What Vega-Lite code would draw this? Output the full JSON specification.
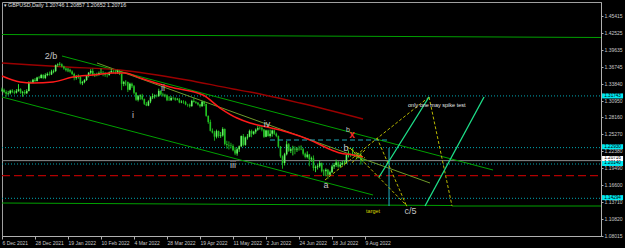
{
"$schema":"https://vega.github.io/schema/vega-lite/v6.json",
"autosize":{"type":"none"},
"padding":{"left":2,"top":2,"right":24,"bottom":12},
"width":599,"height":234,
"background":"#000000",
"config":{"view":{"stroke":"#a0a0a0","strokeWidth":1},"text":{"font":"Liberation Sans"},
"axisX":{"labelFontSize":5,"labelFont":"Liberation Sans","labelColor":"#c8c8c8","labelPadding":1,"tickColor":"#b0b0b0","tickSize":3,"domainColor":"#b0b0b0","grid":false,"labelOverlap":false,"labelFlush":false},
"axisY":{"labelFontSize":5,"labelFont":"Liberation Sans","labelColor":"#c8c8c8","labelPadding":1,"tickColor":"#b0b0b0","tickSize":2,"domainColor":"#b0b0b0","grid":false,"labelOverlap":false,"labelFlush":false}},
"datasets":{
"candles":[
{"i":0,"o":1.3265,"h":1.3315,"l":1.3245,"c":1.328},
{"i":1,"o":1.328,"h":1.33,"l":1.322,"c":1.324},
{"i":2,"o":1.324,"h":1.327,"l":1.316,"c":1.321},
{"i":3,"o":1.321,"h":1.326,"l":1.3185,"c":1.322},
{"i":4,"o":1.322,"h":1.328,"l":1.32,"c":1.3265},
{"i":5,"o":1.3265,"h":1.329,"l":1.322,"c":1.324},
{"i":6,"o":1.324,"h":1.327,"l":1.32,"c":1.323},
{"i":7,"o":1.323,"h":1.329,"l":1.3215,"c":1.326},
{"i":8,"o":1.326,"h":1.3375,"l":1.3245,"c":1.329},
{"i":9,"o":1.329,"h":1.3305,"l":1.321,"c":1.323},
{"i":10,"o":1.323,"h":1.326,"l":1.316,"c":1.324},
{"i":11,"o":1.324,"h":1.3275,"l":1.3195,"c":1.322},
{"i":12,"o":1.322,"h":1.329,"l":1.3205,"c":1.326},
{"i":13,"o":1.326,"h":1.3425,"l":1.325,"c":1.341},
{"i":14,"o":1.341,"h":1.3435,"l":1.338,"c":1.34},
{"i":15,"o":1.34,"h":1.3465,"l":1.339,"c":1.345},
{"i":16,"o":1.345,"h":1.348,"l":1.341,"c":1.343},
{"i":17,"o":1.343,"h":1.35,"l":1.342,"c":1.349},
{"i":18,"o":1.349,"h":1.3515,"l":1.346,"c":1.348},
{"i":19,"o":1.348,"h":1.355,"l":1.347,"c":1.353},
{"i":20,"o":1.353,"h":1.3545,"l":1.346,"c":1.348},
{"i":21,"o":1.348,"h":1.356,"l":1.346,"c":1.353},
{"i":22,"o":1.353,"h":1.3575,"l":1.351,"c":1.355},
{"i":23,"o":1.355,"h":1.359,"l":1.352,"c":1.354},
{"i":24,"o":1.354,"h":1.362,"l":1.353,"c":1.359},
{"i":25,"o":1.359,"h":1.3625,"l":1.356,"c":1.36},
{"i":26,"o":1.36,"h":1.371,"l":1.358,"c":1.37},
{"i":27,"o":1.37,"h":1.373,"l":1.367,"c":1.371},
{"i":28,"o":1.371,"h":1.3748,"l":1.369,"c":1.3715},
{"i":29,"o":1.3715,"h":1.373,"l":1.366,"c":1.3675},
{"i":30,"o":1.3675,"h":1.369,"l":1.362,"c":1.364},
{"i":31,"o":1.364,"h":1.366,"l":1.359,"c":1.361},
{"i":32,"o":1.361,"h":1.365,"l":1.358,"c":1.362},
{"i":33,"o":1.362,"h":1.364,"l":1.357,"c":1.359},
{"i":34,"o":1.359,"h":1.361,"l":1.353,"c":1.355},
{"i":35,"o":1.355,"h":1.357,"l":1.344,"c":1.348},
{"i":36,"o":1.348,"h":1.353,"l":1.345,"c":1.35},
{"i":37,"o":1.35,"h":1.354,"l":1.347,"c":1.35},
{"i":38,"o":1.35,"h":1.351,"l":1.337,"c":1.339},
{"i":39,"o":1.339,"h":1.343,"l":1.3358,"c":1.341},
{"i":40,"o":1.341,"h":1.346,"l":1.339,"c":1.3445},
{"i":41,"o":1.3445,"h":1.353,"l":1.343,"c":1.352},
{"i":42,"o":1.352,"h":1.358,"l":1.349,"c":1.357},
{"i":43,"o":1.357,"h":1.363,"l":1.354,"c":1.36},
{"i":44,"o":1.36,"h":1.364,"l":1.351,"c":1.353},
{"i":45,"o":1.353,"h":1.356,"l":1.35,"c":1.353},
{"i":46,"o":1.353,"h":1.357,"l":1.351,"c":1.3535},
{"i":47,"o":1.3535,"h":1.359,"l":1.352,"c":1.3565},
{"i":48,"o":1.3565,"h":1.364,"l":1.354,"c":1.357},
{"i":49,"o":1.357,"h":1.36,"l":1.351,"c":1.356},
{"i":50,"o":1.356,"h":1.358,"l":1.35,"c":1.3535},
{"i":51,"o":1.3535,"h":1.356,"l":1.349,"c":1.353},
{"i":52,"o":1.353,"h":1.359,"l":1.352,"c":1.3575},
{"i":53,"o":1.3575,"h":1.364,"l":1.356,"c":1.36},
{"i":54,"o":1.36,"h":1.362,"l":1.356,"c":1.359},
{"i":55,"o":1.359,"h":1.362,"l":1.3545,"c":1.358},
{"i":56,"o":1.358,"h":1.362,"l":1.355,"c":1.36},
{"i":57,"o":1.36,"h":1.3615,"l":1.353,"c":1.355},
{"i":58,"o":1.355,"h":1.356,"l":1.3272,"c":1.338},
{"i":59,"o":1.338,"h":1.343,"l":1.334,"c":1.341},
{"i":60,"o":1.341,"h":1.344,"l":1.335,"c":1.341},
{"i":61,"o":1.341,"h":1.342,"l":1.324,"c":1.328},
{"i":62,"o":1.328,"h":1.34,"l":1.327,"c":1.338},
{"i":63,"o":1.338,"h":1.34,"l":1.331,"c":1.334},
{"i":64,"o":1.334,"h":1.336,"l":1.32,"c":1.323},
{"i":65,"o":1.323,"h":1.324,"l":1.309,"c":1.311},
{"i":66,"o":1.311,"h":1.319,"l":1.308,"c":1.317},
{"i":67,"o":1.317,"h":1.32,"l":1.311,"c":1.318},
{"i":68,"o":1.318,"h":1.321,"l":1.31,"c":1.312},
{"i":69,"o":1.312,"h":1.313,"l":1.302,"c":1.304},
{"i":70,"o":1.304,"h":1.307,"l":1.3,"c":1.301},
{"i":71,"o":1.301,"h":1.31,"l":1.3,"c":1.308},
{"i":72,"o":1.308,"h":1.317,"l":1.305,"c":1.315},
{"i":73,"o":1.315,"h":1.3215,"l":1.312,"c":1.317},
{"i":74,"o":1.317,"h":1.32,"l":1.313,"c":1.318},
{"i":75,"o":1.318,"h":1.32,"l":1.315,"c":1.317},
{"i":76,"o":1.317,"h":1.3298,"l":1.316,"c":1.326},
{"i":77,"o":1.326,"h":1.3275,"l":1.318,"c":1.32},
{"i":78,"o":1.32,"h":1.323,"l":1.316,"c":1.318},
{"i":79,"o":1.318,"h":1.321,"l":1.315,"c":1.3185},
{"i":80,"o":1.3185,"h":1.32,"l":1.3085,"c":1.31},
{"i":81,"o":1.31,"h":1.317,"l":1.309,"c":1.31},
{"i":82,"o":1.31,"h":1.317,"l":1.309,"c":1.314},
{"i":83,"o":1.314,"h":1.316,"l":1.311,"c":1.3135},
{"i":84,"o":1.3135,"h":1.315,"l":1.309,"c":1.311},
{"i":85,"o":1.311,"h":1.314,"l":1.31,"c":1.3115},
{"i":86,"o":1.3115,"h":1.314,"l":1.305,"c":1.3065},
{"i":87,"o":1.3065,"h":1.31,"l":1.305,"c":1.3075},
{"i":88,"o":1.3075,"h":1.31,"l":1.304,"c":1.307},
{"i":89,"o":1.307,"h":1.309,"l":1.3015,"c":1.303},
{"i":90,"o":1.303,"h":1.304,"l":1.299,"c":1.3025},
{"i":91,"o":1.3025,"h":1.3045,"l":1.2975,"c":1.3},
{"i":92,"o":1.3,"h":1.311,"l":1.299,"c":1.309},
{"i":93,"o":1.309,"h":1.315,"l":1.306,"c":1.307},
{"i":94,"o":1.307,"h":1.309,"l":1.304,"c":1.306},
{"i":95,"o":1.306,"h":1.307,"l":1.301,"c":1.303},
{"i":96,"o":1.303,"h":1.304,"l":1.2975,"c":1.3},
{"i":97,"o":1.3,"h":1.309,"l":1.299,"c":1.3075},
{"i":98,"o":1.3075,"h":1.309,"l":1.3,"c":1.304},
{"i":99,"o":1.304,"h":1.304,"l":1.282,"c":1.2835},
{"i":100,"o":1.2835,"h":1.284,"l":1.27,"c":1.273},
{"i":101,"o":1.273,"h":1.277,"l":1.257,"c":1.258},
{"i":102,"o":1.258,"h":1.262,"l":1.2535,"c":1.255},
{"i":103,"o":1.255,"h":1.258,"l":1.2411,"c":1.248},
{"i":104,"o":1.248,"h":1.26,"l":1.245,"c":1.2575},
{"i":105,"o":1.2575,"h":1.2585,"l":1.246,"c":1.249},
{"i":106,"o":1.249,"h":1.256,"l":1.246,"c":1.25},
{"i":107,"o":1.25,"h":1.264,"l":1.248,"c":1.261},
{"i":108,"o":1.261,"h":1.262,"l":1.233,"c":1.2355},
{"i":109,"o":1.2355,"h":1.241,"l":1.2275,"c":1.234},
{"i":110,"o":1.234,"h":1.24,"l":1.226,"c":1.233},
{"i":111,"o":1.233,"h":1.2375,"l":1.228,"c":1.232},
{"i":112,"o":1.232,"h":1.235,"l":1.223,"c":1.225},
{"i":113,"o":1.225,"h":1.23,"l":1.2165,"c":1.2195},
{"i":114,"o":1.2195,"h":1.229,"l":1.2155,"c":1.2265},
{"i":115,"o":1.2265,"h":1.233,"l":1.222,"c":1.2315},
{"i":116,"o":1.2315,"h":1.25,"l":1.23,"c":1.249},
{"i":117,"o":1.249,"h":1.2525,"l":1.2315,"c":1.234},
{"i":118,"o":1.234,"h":1.248,"l":1.2325,"c":1.2465},
{"i":119,"o":1.2465,"h":1.2525,"l":1.243,"c":1.248},
{"i":120,"o":1.248,"h":1.26,"l":1.247,"c":1.2575},
{"i":121,"o":1.2575,"h":1.26,"l":1.247,"c":1.253},
{"i":122,"o":1.253,"h":1.258,"l":1.251,"c":1.2565},
{"i":123,"o":1.2565,"h":1.262,"l":1.253,"c":1.26},
{"i":124,"o":1.26,"h":1.2665,"l":1.258,"c":1.2625},
{"i":125,"o":1.2625,"h":1.2655,"l":1.26,"c":1.2625},
{"i":126,"o":1.2625,"h":1.266,"l":1.257,"c":1.26},
{"i":127,"o":1.26,"h":1.261,"l":1.246,"c":1.248},
{"i":128,"o":1.248,"h":1.26,"l":1.247,"c":1.2585},
{"i":129,"o":1.2585,"h":1.26,"l":1.248,"c":1.249},
{"i":130,"o":1.249,"h":1.26,"l":1.2465,"c":1.253},
{"i":131,"o":1.253,"h":1.26,"l":1.248,"c":1.2585},
{"i":132,"o":1.2585,"h":1.26,"l":1.251,"c":1.253},
{"i":133,"o":1.253,"h":1.255,"l":1.247,"c":1.249},
{"i":134,"o":1.249,"h":1.25,"l":1.23,"c":1.231},
{"i":135,"o":1.231,"h":1.232,"l":1.212,"c":1.2145},
{"i":136,"o":1.2145,"h":1.216,"l":1.1934,"c":1.203},
{"i":137,"o":1.203,"h":1.2205,"l":1.199,"c":1.218},
{"i":138,"o":1.218,"h":1.2406,"l":1.216,"c":1.235},
{"i":139,"o":1.235,"h":1.237,"l":1.222,"c":1.224},
{"i":140,"o":1.224,"h":1.229,"l":1.22,"c":1.2265},
{"i":141,"o":1.2265,"h":1.2325,"l":1.216,"c":1.2275},
{"i":142,"o":1.2275,"h":1.2315,"l":1.218,"c":1.226},
{"i":143,"o":1.226,"h":1.23,"l":1.222,"c":1.2275},
{"i":144,"o":1.2275,"h":1.2325,"l":1.224,"c":1.2265},
{"i":145,"o":1.2265,"h":1.233,"l":1.225,"c":1.2265},
{"i":146,"o":1.2265,"h":1.229,"l":1.216,"c":1.219},
{"i":147,"o":1.219,"h":1.221,"l":1.211,"c":1.2135},
{"i":148,"o":1.2135,"h":1.223,"l":1.211,"c":1.2175},
{"i":149,"o":1.2175,"h":1.2185,"l":1.1975,"c":1.2095},
{"i":150,"o":1.2095,"h":1.214,"l":1.205,"c":1.211},
{"i":151,"o":1.211,"h":1.216,"l":1.19,"c":1.1945},
{"i":152,"o":1.1945,"h":1.199,"l":1.1875,"c":1.196},
{"i":153,"o":1.196,"h":1.201,"l":1.192,"c":1.1975},
{"i":154,"o":1.1975,"h":1.207,"l":1.195,"c":1.203},
{"i":155,"o":1.203,"h":1.204,"l":1.187,"c":1.189},
{"i":156,"o":1.189,"h":1.192,"l":1.181,"c":1.189},
{"i":157,"o":1.189,"h":1.194,"l":1.1805,"c":1.1915},
{"i":158,"o":1.1915,"h":1.193,"l":1.176,"c":1.183},
{"i":159,"o":1.183,"h":1.19,"l":1.1815,"c":1.1875},
{"i":160,"o":1.1875,"h":1.2,"l":1.186,"c":1.197},
{"i":161,"o":1.197,"h":1.203,"l":1.193,"c":1.1995},
{"i":162,"o":1.1995,"h":1.209,"l":1.1965,"c":1.204},
{"i":163,"o":1.204,"h":1.2065,"l":1.195,"c":1.197},
{"i":164,"o":1.197,"h":1.205,"l":1.195,"c":1.2005},
{"i":165,"o":1.2005,"h":1.2065,"l":1.1995,"c":1.203},
{"i":166,"o":1.203,"h":1.208,"l":1.199,"c":1.203},
{"i":167,"o":1.203,"h":1.2185,"l":1.202,"c":1.2165},
{"i":168,"o":1.2165,"h":1.2245,"l":1.2125,"c":1.2175},
{"i":169,"o":1.2175,"h":1.2195,"l":1.2135,"c":1.2165},
{"i":170,"o":1.2165,"h":1.2293,"l":1.216,"c":1.218},
{"i":171,"o":1.218,"h":1.2215,"l":1.214,"c":1.216},
{"i":172,"o":1.216,"h":1.2195,"l":1.209,"c":1.215},
{"i":173,"o":1.215,"h":1.22,"l":1.211,"c":1.2155},
{"i":174,"o":1.2155,"h":1.221,"l":1.2005,"c":1.2075},
{"i":175,"o":1.2075,"h":1.2115,"l":1.2045,"c":1.20746},
{"i":176,"o":1.20746,"h":1.20857,"l":1.20652,"c":1.20716}
],
"lines":[
{"g":"green","s":"top","i":0,"p":1.4221},{"g":"green","s":"top","i":290.4,"p":1.417},
{"g":"green","s":"bot1","i":0,"p":1.13494},{"g":"green","s":"bot1","i":218.2,"p":1.13067},
{"g":"green","s":"bot2","i":218.2,"p":1.12982},{"g":"green","s":"bot2","i":290.4,"p":1.12982},
{"g":"green","s":"up","i":29.09,"p":1.38547},{"g":"green","s":"up","i":238.06,"p":1.19118},
{"g":"green","s":"low","i":0,"p":1.31559},{"g":"green","s":"low","i":179.88,"p":1.14857},
{"g":"olive","s":"inner","i":46.06,"p":1.37354},{"g":"olive","s":"inner","i":207.5,"p":1.16902},
{"g":"cdot","s":"h1","i":0,"p":1.31743},{"g":"cdot","s":"h1","i":290.4,"p":1.31743},
{"g":"cdot","s":"h2","i":0,"p":1.2293},{"g":"cdot","s":"h2","i":290.4,"p":1.2293},
{"g":"cdot","s":"h3","i":0,"p":1.2014},{"g":"cdot","s":"h3","i":290.4,"p":1.2014},
{"g":"cdot","s":"h4","i":0,"p":1.14294},{"g":"cdot","s":"h4","i":290.4,"p":1.14294},
{"g":"gray","s":"bid","i":0,"p":1.20716},{"g":"gray","s":"bid","i":290.4,"p":1.20716},
{"g":"rdash","s":"rd","i":0,"p":1.18146},{"g":"rdash","s":"rd","i":290.4,"p":1.18146},
{"g":"cdash","s":"cd","i":129.94,"p":1.24231},{"g":"cdash","s":"cd","i":187.15,"p":1.24231},
{"g":"cvert","s":"cv","i":187.64,"p":1.22867},{"g":"cvert","s":"cv","i":187.64,"p":1.12982},
{"g":"yd","s":"L1","i":156.6,"p":1.17413},{"g":"yd","s":"L1","i":207.03,"p":1.31559},
{"g":"yd","s":"L2","i":207.03,"p":1.31559},{"g":"yd","s":"L2","i":218.18,"p":1.12982},
{"g":"yd","s":"L3","i":168.73,"p":1.22867},{"g":"yd","s":"L3","i":196.36,"p":1.12982},
{"g":"yd","s":"L4","i":181.8,"p":1.24572},{"g":"yd","s":"L4","i":196.36,"p":1.12812},
{"g":"yd","s":"S1","i":167.3,"p":1.2304},{"g":"yd","s":"S1","i":176,"p":1.2116},
{"g":"yd","s":"S2","i":169.7,"p":1.2037},{"g":"yd","s":"S2","i":176,"p":1.2253},
{"g":"sg","s":"G1","i":182.79,"p":1.17925},{"g":"sg","s":"G1","i":207.03,"p":1.31559},
{"g":"sg","s":"G2","i":205.09,"p":1.12982},{"g":"sg","s":"G2","i":233.7,"p":1.31559}
],
"ma":[
{"i":0,"p":1.35138},{"i":8.73,"p":1.34116},{"i":15.03,"p":1.33945},{"i":24.73,"p":1.34116},{"i":34.42,"p":1.34968},{"i":44.12,"p":1.35309},{"i":53.82,"p":1.3565},{"i":59.64,"p":1.3565},{"i":66.91,"p":1.34797},{"i":81.45,"p":1.33263},{"i":97.45,"p":1.319},{"i":105.7,"p":1.29684},{"i":113.94,"p":1.2798},{"i":120.24,"p":1.27128},{"i":128.48,"p":1.26446},{"i":138.18,"p":1.25594},{"i":149.33,"p":1.24231},{"i":157.58,"p":1.22867},{"i":163.88,"p":1.22015},{"i":170.18,"p":1.21674},{"i":175.03,"p":1.21333}
],
"ma2":[
{"i":0,"p":1.37354},{"i":15.03,"p":1.37013},{"i":31.52,"p":1.36672},{"i":57.21,"p":1.36161},{"i":89.7,"p":1.34456},{"i":112,"p":1.32923},{"i":120.24,"p":1.32411},{"i":144.48,"p":1.30537},{"i":175.03,"p":1.2781}
],
"wave":[
{"t":"2/b","i":23.76,"p":1.38547},{"t":"i","i":63.5,"p":1.28492},{"t":"ii","i":78.06,"p":1.33093},{"t":"iii","i":112,"p":1.2},{"t":"iv","i":128.48,"p":1.26958},{"t":"a","i":157.09,"p":1.16561},{"t":"b","i":166.8,"p":1.22867},{"t":"c/5","i":198.06,"p":1.1213}
],
"notes":[
{"t":"b","k":"sb","i":167.76,"p":1.2602},
{"t":"x","k":"rx","i":169.7,"p":1.25097},
{"t":"only one may spike test","k":"note","i":196.85,"p":1.30196},
{"t":"target","k":"tg","i":176.5,"p":1.1213},
{"t":"▾  GBPUSD,Daily  1.20746 1.20857 1.20652 1.20716","k":"hd","i":0.8,"p":1.47188}
],
"boxes":[
{"t":"1.31743","i":296,"p":1.31743,"k":"c"},{"t":"1.22930","i":296,"p":1.2308,"k":"c"},{"t":"1.20140","i":296,"p":1.2023,"k":"c"},{"t":"1.20716","i":296,"p":1.2108,"k":"w"},{"t":"1.14294","i":296,"p":1.1441,"k":"c"}
]
},
"encoding":{
"x":{"field":"i","type":"quantitative","scale":{"domain":[0,290.4],"nice":false,"zero":false,"padding":0},
"axis":{"orient":"bottom","title":null,"values":[0,16,32,48,64,80,96,112,128,144,160,176],"labelExpr":"['6 Dec 2021','28 Dec 2021','19 Jan 2022','10 Feb 2022','4 Mar 2022','28 Mar 2022','19 Apr 2022','11 May 2022','2 Jun 2022','24 Jun 2022','18 Jul 2022','9 Aug 2022'][round(datum.value/16)]","labelAlign":"left"}},
"y":{"field":"p","type":"quantitative","scale":{"domain":[1.0787,1.4775],"nice":false,"zero":false},
"axis":{"orient":"right","title":null,"values":[1.45415,1.42525,1.39635,1.36745,1.3384,1.3095,1.2816,1.2527,1.2238,1.1949,1.166,1.1371,1.1082,1.0789],"labelExpr":"datum.value < 1.09 ? '1.08015' : format(datum.value, '.5f')"}}
},
"layer":[
{"data":{"name":"lines"},"transform":[{"filter":"datum.g=='cdot'"}],"mark":{"type":"line","color":"#00a8b4","strokeWidth":1,"strokeDash":[1,2]},"encoding":{"detail":{"field":"s"}}},
{"data":{"name":"lines"},"transform":[{"filter":"datum.g=='gray'"}],"mark":{"type":"line","color":"#8c8c8c","strokeWidth":1},"encoding":{"detail":{"field":"s"}}},
{"data":{"name":"lines"},"transform":[{"filter":"datum.g=='rdash'"}],"mark":{"type":"line","color":"#b00000","strokeWidth":1.3,"strokeDash":[8,4]},"encoding":{"detail":{"field":"s"}}},
{"data":{"name":"lines"},"transform":[{"filter":"datum.g=='green'"}],"mark":{"type":"line","color":"#00a000","strokeWidth":1},"encoding":{"detail":{"field":"s"}}},
{"data":{"name":"lines"},"transform":[{"filter":"datum.g=='olive'"}],"mark":{"type":"line","color":"#6f9a2a","strokeWidth":1},"encoding":{"detail":{"field":"s"}}},
{"data":{"name":"ma2"},"mark":{"type":"line","color":"#9a0000","strokeWidth":1.3,"interpolate":"monotone"},"encoding":{}},
{"data":{"name":"candles"},"mark":{"type":"rule","strokeWidth":1},
 "encoding":{"y":{"field":"l","type":"quantitative","scale":{"domain":[1.0787,1.4775],"nice":false,"zero":false},
 "axis":{"orient":"right","title":null,"values":[1.45415,1.42525,1.39635,1.36745,1.3384,1.3095,1.2816,1.2527,1.2238,1.1949,1.166,1.1371,1.1082,1.0789],"labelExpr":"datum.value < 1.09 ? '1.08015' : format(datum.value, '.5f')"}},"y2":{"field":"h"},
 "color":{"condition":{"test":"datum.c >= datum.o","value":"#2fd82f"},"value":"#1aa81a"}}},
{"data":{"name":"candles"},"mark":{"type":"bar","size":1.6},
 "encoding":{"y":{"field":"o","type":"quantitative","scale":{"domain":[1.0787,1.4775],"nice":false,"zero":false},
 "axis":{"orient":"right","title":null,"values":[1.45415,1.42525,1.39635,1.36745,1.3384,1.3095,1.2816,1.2527,1.2238,1.1949,1.166,1.1371,1.1082,1.0789],"labelExpr":"datum.value < 1.09 ? '1.08015' : format(datum.value, '.5f')"}},"y2":{"field":"c"},
 "color":{"condition":{"test":"datum.c >= datum.o","value":"#66f066"},"value":"#22c022"}}},
{"data":{"name":"ma"},"mark":{"type":"line","color":"#ff1a1a","strokeWidth":1.5,"interpolate":"monotone"},"encoding":{}},
{"data":{"name":"lines"},"transform":[{"filter":"datum.g=='cdash'"}],"mark":{"type":"line","color":"#1ea8b8","strokeWidth":1,"strokeDash":[5,3]},"encoding":{"detail":{"field":"s"}}},
{"data":{"name":"lines"},"transform":[{"filter":"datum.g=='cvert'"}],"mark":{"type":"line","color":"#22b4c4","strokeWidth":1},"encoding":{"detail":{"field":"s"}}},
{"data":{"name":"lines"},"transform":[{"filter":"datum.g=='yd'"}],"mark":{"type":"line","color":"#b8b800","strokeWidth":1,"strokeDash":[3,2]},"encoding":{"detail":{"field":"s"}}},
{"data":{"name":"lines"},"transform":[{"filter":"datum.g=='sg'"}],"mark":{"type":"line","color":"#1ee08a","strokeWidth":1.3},"encoding":{"detail":{"field":"s"}}},
{"data":{"name":"wave"},"mark":{"type":"text","color":"#c4c4c4","fontSize":9,"font":"Liberation Sans","align":"center","baseline":"middle"},"encoding":{"text":{"field":"t"}}},
{"data":{"name":"notes"},"transform":[{"filter":"datum.k=='sb'"}],"mark":{"type":"text","color":"#c4c4c4","fontSize":7,"align":"center","baseline":"middle"},"encoding":{"text":{"field":"t"}}},
{"data":{"name":"notes"},"transform":[{"filter":"datum.k=='rx'"}],"mark":{"type":"text","color":"#ff2a2a","fontSize":10,"fontWeight":"bold","align":"center","baseline":"middle"},"encoding":{"text":{"field":"t"}}},
{"data":{"name":"notes"},"transform":[{"filter":"datum.k=='note'"}],"mark":{"type":"text","color":"#e6e6e6","fontSize":5.5,"align":"left","baseline":"middle"},"encoding":{"text":{"field":"t"}}},
{"data":{"name":"notes"},"transform":[{"filter":"datum.k=='tg'"}],"mark":{"type":"text","color":"#d4d400","fontSize":5.5,"align":"left","baseline":"middle"},"encoding":{"text":{"field":"t"}}},
{"data":{"name":"notes"},"transform":[{"filter":"datum.k=='hd'"}],"mark":{"type":"text","color":"#e0e0e0","fontSize":5.3,"align":"left","baseline":"middle"},"encoding":{"text":{"field":"t"}}},
{"data":{"name":"boxes"},"mark":{"type":"point","shape":"M-1,-0.24H1V0.24H-1Z","filled":true,"size":441,"opacity":1,"strokeWidth":0,"clip":false},
 "encoding":{"color":{"field":"k","type":"nominal","scale":{"domain":["c","w"],"range":["#00e8f0","#ffffff"]},"legend":null}}},
{"data":{"name":"boxes"},"mark":{"type":"text","color":"#000000","fontSize":4.6,"align":"center","baseline":"middle","clip":false},"encoding":{"text":{"field":"t"}}}
]
}
